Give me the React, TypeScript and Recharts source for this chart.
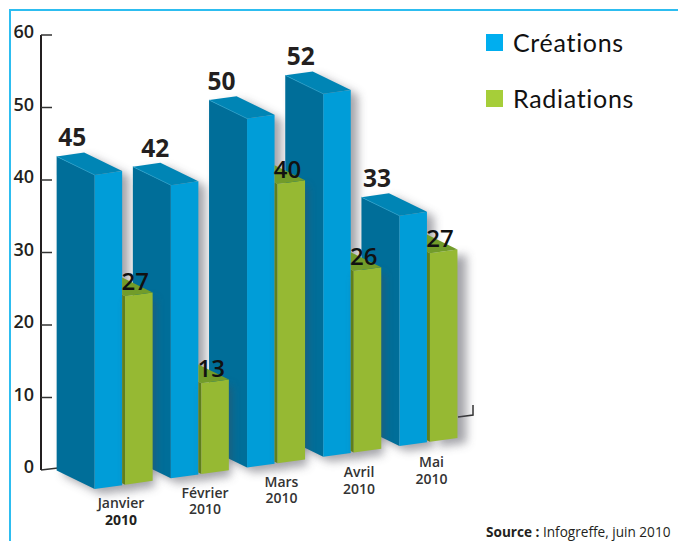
import { Bar, BarChart, LabelList, XAxis, YAxis } from "recharts";

const MONTHS = ["Janvier", "Février", "Mars", "Avril", "Mai"];
const CREATIONS = [45, 42, 50, 52, 33];
const RADIATIONS = [27, 13, 40, 26, 27];
const AXIS_TICKS = [0, 10, 20, 30, 40, 50, 60];
const YEAR = "2010";

const chartData = MONTHS.map((month, i) => ({
  month,
  creations: CREATIONS[i],
  radiations: RADIATIONS[i],
}));

const FONT = "'Open Sans', sans-serif";
const INK = "#231f20";
// the box sits on a tilted floor, so every bar is shifted by its x position
const FLOOR_SLOPE = -0.141;
const FLOOR_AT_FIRST_BAR = 489;
const FIRST_BAR_X = 95;
const DEPTH_X = -38;
const DEPTH_Y = -18.5;
// the boxes are drawn a little smaller than the printed axis
const BOX_SCALE = 6.98 / 7.25;

// hand placed labels in the original
const BLUE_LABEL_NUDGE = [0, 7, -3, 0, 0];
const MONTH_LABEL_X = [121, 205, 281.5, 359, 431.5];
const MONTH_LABEL_Y = [508, 497.5, 486.5, 477, 467];

function lift(x: number, height: number) {
  return FLOOR_AT_FIRST_BAR + FLOOR_SLOPE * (x - FIRST_BAR_X) - height * BOX_SCALE;
}

function pts(list: number[][]) {
  return list.map((p) => p.join(",")).join(" ");
}

function BlueBox({ x, width, height }: any) {
  const r = x + width;
  const tl = [x, lift(x, height)];
  const tr = [r, lift(r, height)];
  const bl = [x, lift(x, 0)];
  const br = [r, lift(r, 0)];
  const backTl = [x + DEPTH_X, tl[1] + DEPTH_Y];
  const backTr = [r + DEPTH_X, tr[1] + DEPTH_Y];
  const backBl = [x + DEPTH_X, bl[1] + DEPTH_Y];
  const shadow = [backTl, backTr, tr, br, bl, backBl].map(([a, b]) => [a + 7, b + 5]);
  return (
    <g>
      <polygon points={pts(shadow)} fill="#4a4a55" opacity={0.5} filter="url(#soft)" />
      <polygon points={pts([backTl, tl, bl, backBl])} fill="#006e99" />
      <polygon points={pts([tl, tr, br, bl])} fill="#009dd8" />
      <polygon points={pts([backTl, backTr, tr, tl])} fill="#0085b5" />
      <line x1={backTl[0]} y1={backTl[1]} x2={tl[0]} y2={tl[1]} stroke="#2aa3cf" strokeWidth={0.7} />
    </g>
  );
}

function GreenBox({ x, width, height, index }: any) {
  const r = x + width;
  const tl = [x, lift(x, height)];
  const tr = [r, lift(r, height)];
  const bl = [x, lift(x, 0)];
  const br = [r, lift(r, 0)];
  // only what shows past the front of the blue box next to it
  const edge = x - 3;
  const t = (x - edge) / -DEPTH_X;
  const stripTop = [edge, tl[1] + DEPTH_Y * t];
  const stripBottom = [edge, bl[1] + DEPTH_Y * t];
  const backAtEdge = [edge, tr[1] + (DEPTH_Y * (r - edge)) / -DEPTH_X];
  const last = index === MONTHS.length - 1;
  const shadow = [tl, tr, br, bl].map(([a, b]) => [a + (last ? 9 : 2), b + (last ? 5 : 6)]);
  return (
    <g>
      <polygon points={pts(shadow)} fill="#4a4a55" opacity={0.5} filter="url(#soft)" />
      <polygon points={pts([stripTop, tl, bl, stripBottom])} fill="#5f7f1c" />
      <polygon points={pts([tl, tr, br, bl])} fill="#96b933" />
      <polygon points={pts([backAtEdge, tr, tl, stripTop])} fill="#729c2a" />
    </g>
  );
}

function BlueLabel({ x, height, value, index }: any) {
  const top = lift(x, height) + DEPTH_Y;
  return (
    <text
      x={x + DEPTH_X + 15.5 + BLUE_LABEL_NUDGE[index]}
      y={top - 10}
      textAnchor="middle"
      fontFamily={FONT}
      fontSize={24.5}
      fontWeight={700}
      fill={INK}
    >
      {value}
    </text>
  );
}

function GreenLabel({ x, height, value }: any) {
  return (
    <text
      x={x + 10}
      y={lift(x, height) - 6.5}
      textAnchor="middle"
      fontFamily={FONT}
      fontSize={24}
      fontWeight={600}
      fill="#111"
    >
      {value}
    </text>
  );
}

function ValueTick({ y, payload }: any) {
  return (
    <g>
      {payload.value !== 0 && (
        <line x1={41} y1={y} x2={52} y2={y} stroke="#333" strokeWidth={1.5} />
      )}
      <text x={34} y={y + 3} textAnchor="end" fontFamily={FONT} fontSize={18} fontWeight={600} fill={INK}>
        {payload.value}
      </text>
    </g>
  );
}

function MonthTick({ index, payload }: any) {
  const x = MONTH_LABEL_X[index];
  const y = MONTH_LABEL_Y[index];
  return (
    <text textAnchor="middle" fontFamily={FONT} fontSize={14} fontWeight={600} fill="#333">
      <tspan x={x} y={y}>{payload.value}</tspan>
      <tspan x={x} y={y + 16.5} fontWeight={index === 0 ? 700 : 600} fill={index === 0 ? INK : "#333"}>
        {YEAR}
      </tspan>
    </text>
  );
}

const LEGEND = [
  { label: "Créations", color: "#00aeef", y: 34 },
  { label: "Radiations", color: "#a6ce39", y: 90 },
];

export default function App() {
  return (
    <div style={{ position: "absolute", left: 0, top: 0, width: 678, height: 541, background: "#fff" }}>
      <BarChart
        width={678}
        height={541}
        data={chartData}
        margin={{ top: 35, right: 200, bottom: 0, left: 0 }}
        barSize={27.5}
        barGap={3}
      >
        <defs>
          <filter id="soft" x="-60%" y="-15%" width="220%" height="130%">
            <feGaussianBlur stdDeviation="5" />
          </filter>
        </defs>
        <path d="M10,541 V10 H678" fill="none" stroke="#2dbdf0" strokeWidth={2} />
        <path d="M41,470 L58,468 M458,417 L473,415 V405" fill="none" stroke="#333" strokeWidth={1.5} />

        <XAxis
          dataKey="month"
          height={71}
          axisLine={false}
          tickLine={false}
          interval={0}
          padding={{ left: 44.65, right: 11.35 }}
          tick={<MonthTick />}
        />
        <YAxis
          width={41}
          domain={[0, 60]}
          ticks={AXIS_TICKS}
          interval={0}
          axisLine={{ stroke: INK, strokeWidth: 2 }}
          tickLine={false}
          tick={<ValueTick />}
        />

        <Bar dataKey="creations" name="Créations" fill="#009dd8" shape={<BlueBox />} isAnimationActive={false}>
          <LabelList dataKey="creations" content={<BlueLabel />} />
        </Bar>
        <Bar dataKey="radiations" name="Radiations" fill="#96b933" shape={<GreenBox />} isAnimationActive={false}>
          <LabelList dataKey="radiations" content={<GreenLabel />} />
        </Bar>

        {LEGEND.map((item) => (
          <g key={item.label}>
            <rect x={486} y={item.y} width={17} height={17} fill={item.color} />
            <text x={513} y={item.y + 18} fontFamily="Lato, sans-serif" fontSize={25} letterSpacing={0.7} fill="#111">
              {item.label}
            </text>
          </g>
        ))}
        <text x={486} y={537} fontFamily={FONT} fontSize={13.6} fill={INK}>
          <tspan fontWeight={700}>Source :</tspan> Infogreffe, juin 2010
        </text>
      </BarChart>
    </div>
  );
}
